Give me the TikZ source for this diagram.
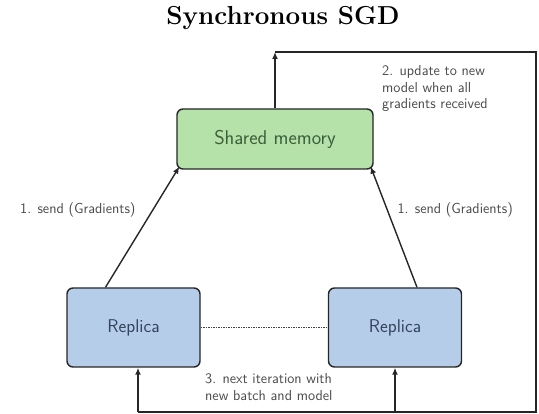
\documentclass[tikz,border=0pt]{standalone}
\usetikzlibrary{arrows.meta}
\definecolor{memfill}{HTML}{B4E2A8}
\definecolor{repfill}{HTML}{B6CDEA}
\definecolor{memtext}{HTML}{3E5E3C}
\definecolor{reptext}{HTML}{34445A}
\definecolor{lbltext}{HTML}{4A4A4A}
\tikzset{
  box/.style={draw=black!85, line width=1.4pt, rounded corners=6pt, anchor=center, inner sep=0pt},
  memstyle/.style={box, fill=memfill, text=memtext, minimum width=196pt, minimum height=60pt, font=\sffamily\fontsize{20}{23}\selectfont},
  repstyle/.style={box, fill=repfill, text=reptext, minimum width=133pt, minimum height=79pt, font=\sffamily\fontsize{18.5}{22}\selectfont},
  lbl/.style={text=lbltext, font=\sffamily\fontsize{14.5}{16.8}\selectfont, inner sep=0pt, align=left},
  conn/.style={line width=1.4pt, draw=black!85, -{Latex[length=7pt,width=6pt]}},
  plain/.style={line width=1.4pt, draw=black!85}
}
\begin{document}
\begin{tikzpicture}[x=1pt,y=-1pt]
  \useasboundingbox (0,0) rectangle (539,414);
  % title
  \node[font=\bfseries\fontsize{26}{30}\selectfont] (title) at (283,18) {Synchronous SGD};
  % nodes
  \node[memstyle] (mem) at (275,139) {Shared memory};
  \node[repstyle] (rl) at (133.5,327.5) {Replica};
  \node[repstyle] (rr) at (395,327.5) {Replica};
  % corners of the feedback loop
  \coordinate (tl) at (275,52);
  \coordinate (tr) at (536,52);
  \coordinate (br) at (536,412);
  \coordinate (bl) at (138,412);
  \coordinate (bm) at (395,412);
  % gradients going up
  \draw[conn] ([xshift=-28pt]rl.north) -- ([xshift=3pt,yshift=3pt]mem.south west);
  \draw[conn] ([xshift=22pt]rr.north) -- ([xshift=-3pt,yshift=3pt]mem.south east);
  % dotted link between replicas
  \draw[densely dotted, line width=1.5pt, black!75] (rl.east) -- (rr.west);
  % update loop: up from memory, round the right side, back into the replicas
  \draw[conn] (mem.north) -- (tl);
  \draw[plain] (tl) -- (tr) -- (br) -- (bl);
  \draw[conn] (bl) -- (bl |- rl.south);
  \draw[conn] (bm) -- (rr.south);
  % labels
  \node[lbl, anchor=west] (l1) at (20,210) {1. send (Gradients)};
  \node[lbl, anchor=east] (l2) at (513,210) {1. send (Gradients)};
  \node[lbl, anchor=north west] (l3) at (382,65) {2. update to new\\model when all\\gradients received};
  \node[lbl, anchor=north west] (l4) at (205,373) {3. next iteration with\\new batch and model};
\end{tikzpicture}
\end{document}
